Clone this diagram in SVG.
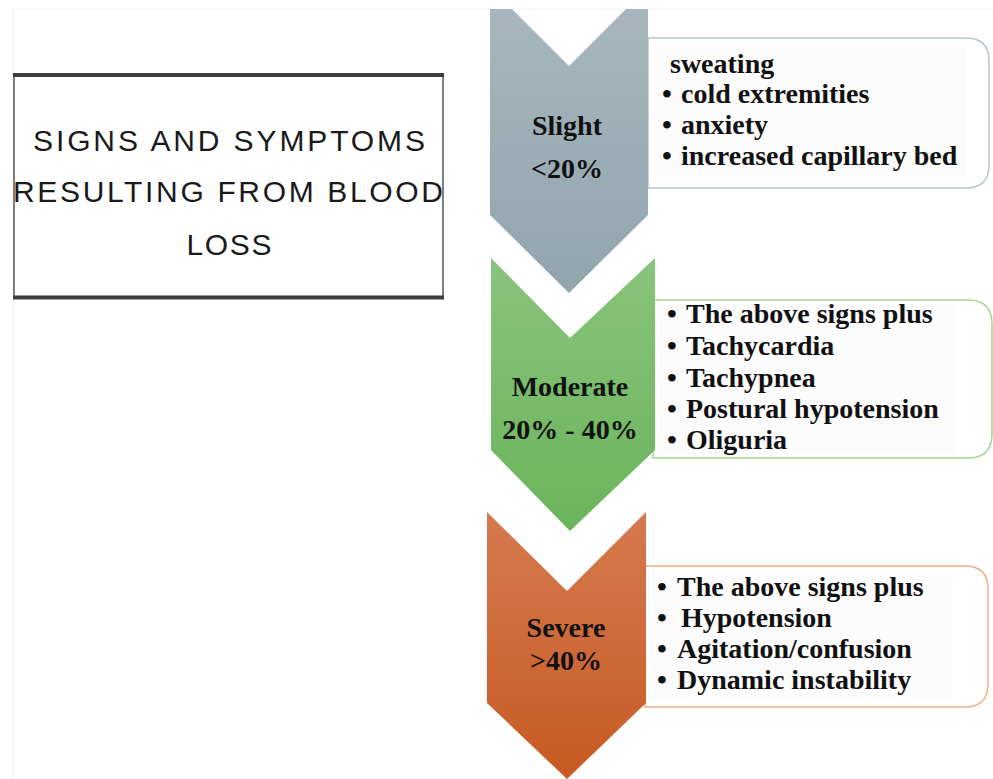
<svg xmlns="http://www.w3.org/2000/svg" width="993" height="779" viewBox="0 0 993 779">
<style>
.title{font-family:"Liberation Sans",Arial,sans-serif;font-size:30px;fill:#1a1a1a;text-anchor:middle}
.lab{font-family:"Liberation Serif","Times New Roman",serif;font-size:28px;font-weight:bold;fill:#111;text-anchor:middle}
.item{font-family:"Liberation Serif","Times New Roman",serif;font-size:28px;font-weight:bold;fill:#111}
</style>
<defs>
<linearGradient id="gGray" x1="0" y1="0" x2="0" y2="1"><stop offset="0" stop-color="#a6b6bc"/><stop offset="1" stop-color="#91a5ad"/></linearGradient>
<linearGradient id="gGreen" x1="0" y1="0" x2="0" y2="1"><stop offset="0" stop-color="#88c47b"/><stop offset="1" stop-color="#6ab45b"/></linearGradient>
<linearGradient id="gOrange" x1="0" y1="0" x2="0" y2="1"><stop offset="0" stop-color="#d47a4e"/><stop offset="1" stop-color="#c85a22"/></linearGradient>
</defs>
<rect width="993" height="779" fill="#ffffff"/>
<path d="M13 779 V9 H993" fill="none" stroke="#f0f0f0" stroke-width="1"/>

<g id="title">
<rect x="14" y="75" width="429" height="223" fill="#ffffff" stroke="#555" stroke-width="1.5"/>
<line x1="13" y1="75" x2="444" y2="75" stroke="#3c3c3c" stroke-width="4"/>
<line x1="13" y1="297.5" x2="444" y2="297.5" stroke="#3c3c3c" stroke-width="4"/>
<text class="title" x="229" y="151" textLength="392" lengthAdjust="spacing">SIGNS AND SYMPTOMS</text>
<text class="title" x="228" y="202" textLength="430" lengthAdjust="spacing">RESULTING FROM BLOOD</text>
<text class="title" x="229" y="255" textLength="85" lengthAdjust="spacing">LOSS</text>
</g>

<g id="slight-box">
<path d="M648 38 H966 Q989 38 989 61 V165 Q989 188 966 188 H648 Z" fill="#ffffff" stroke="#b6c5cb" stroke-width="1.5"/>
<rect x="654" y="47" width="312" height="130" fill="#fcfcfc"/>
<text class="item" x="670" y="73">sweating</text>
<text class="item" y="103"><tspan x="662">•</tspan><tspan x="681">cold extremities</tspan></text>
<text class="item" y="134"><tspan x="662">•</tspan><tspan x="681">anxiety</tspan></text>
<text class="item" y="165"><tspan x="662">•</tspan><tspan x="681">increased capillary bed</tspan></text>
</g>
<g id="slight">
<polygon points="490,9 512,9 569,66 626,9 648,9 648,215 569,293 490,215" fill="url(#gGray)"/>
<text class="lab" x="567" y="135">Slight</text>
<text class="lab" x="567" y="178">&lt;20%</text>
</g>

<g id="moderate-box">
<path d="M653 300 H968 Q992 300 992 324 V434 Q992 458 968 458 H653 Z" fill="#ffffff" stroke="#a8d48f" stroke-width="1.5"/>
<rect x="658" y="304" width="298" height="150" fill="#fcfcfc"/>
<text class="item" y="323"><tspan x="667">•</tspan><tspan x="686">The above signs plus</tspan></text>
<text class="item" y="355"><tspan x="667">•</tspan><tspan x="686">Tachycardia</tspan></text>
<text class="item" y="387"><tspan x="667">•</tspan><tspan x="686">Tachypnea</tspan></text>
<text class="item" y="418"><tspan x="667">•</tspan><tspan x="686">Postural hypotension</tspan></text>
<text class="item" y="449"><tspan x="667">•</tspan><tspan x="686">Oliguria</tspan></text>
</g>
<g id="moderate">
<polygon points="491,258 570,338 655,258 655,450 570,531 491,450" fill="url(#gGreen)"/>
<text class="lab" x="570" y="396">Moderate</text>
<text class="lab" x="570" y="439">20% - 40%</text>
</g>

<g id="severe-box">
<path d="M645 566 H965 Q988 566 988 589 V684 Q988 707 965 707 H645 Z" fill="#ffffff" stroke="#f1b08a" stroke-width="1.5"/>
<rect x="652" y="571" width="300" height="130" fill="#fcfcfc"/>
<text class="item" y="596"><tspan x="657">•</tspan><tspan x="677">The above signs plus</tspan></text>
<text class="item" y="627"><tspan x="657">•</tspan><tspan x="681">Hypotension</tspan></text>
<text class="item" y="658"><tspan x="657">•</tspan><tspan x="677">Agitation/confusion</tspan></text>
<text class="item" y="689"><tspan x="657">•</tspan><tspan x="677">Dynamic instability</tspan></text>
</g>
<g id="severe">
<polygon points="487,512 567,591 646,512 646,703 567,779 487,703" fill="url(#gOrange)"/>
<text class="lab" x="566" y="637">Severe</text>
<text class="lab" x="566" y="670">&gt;40%</text>
</g>

<g id="connectors"></g>
</svg>
